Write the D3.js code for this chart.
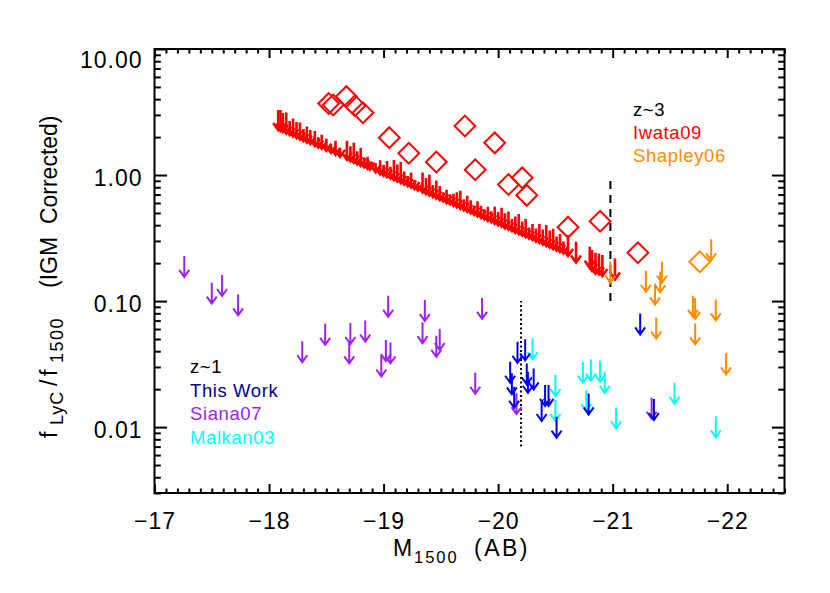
<!DOCTYPE html>
<html><head><meta charset="utf-8">
<script src="https://cdn.jsdelivr.net/npm/d3@7/dist/d3.min.js"></script>
<style>
body{margin:0;background:#fff;}
svg{display:block;}
text{font-family:"Liberation Sans",Arial,Helvetica,sans-serif;}
</style>
</head><body>
<svg id="chart" width="830" height="593"></svg>
<script>
// ---------- axis ticks ----------
const xTickValues = [-17, -18, -19, -20, -21, -22];
const xTickLabels = ["\u221217", "\u221218", "\u221219", "\u221220", "\u221221", "\u221222"];
const yTickValues = [0.01, 0.1, 1, 10];
const yTickLabels = ["0.01", "0.10", "1.00", "10.00"];

// ---------- z~3 : Iwata09 detections (diamonds) ----------
const iwataDetM   = [-18.52, -18.56, -18.675, -18.75, -18.82, -19.05, -19.22, -19.46, -19.71, -19.97, -19.80, -20.09, -20.21, -20.25, -20.61, -20.89, -21.22];
const iwataDetVal = [3.7, 3.6, 4.19, 3.55, 3.12, 1.98, 1.49, 1.27, 2.45, 1.80, 1.10, 0.84, 0.95, 0.69, 0.386, 0.43, 0.242];

// ---------- z~3 : Iwata09 upper limits (arrow top = limit, tip = arrow end) ----------
const iwataLimM = [-18.08,-18.10,-18.12,-18.15,-18.18,-18.21,-18.24,-18.27,-18.30,-18.33,-18.36,-18.40,-18.43,-18.46,-18.50,-18.54,-18.58,-18.62,
  -18.68,-18.71,-18.74,-18.77,-18.80,-18.83,-18.86,-18.88,
  -18.93,-18.97,-19.00,-19.03,-19.06,-19.09,-19.12,-19.15,-19.18,-19.21,-19.24,-19.27,-19.30,
  -19.34,-19.37,-19.40,-19.43,-19.46,-19.49,-19.52,-19.55,-19.58,-19.61,-19.64,-19.67,-19.70,-19.73,-19.76,-19.79,-19.82,-19.85,-19.88,-19.91,-19.94,-19.97,
  -20.00,-20.03,-20.06,-20.09,-20.12,-20.15,-20.18,-20.21,-20.24,-20.27,-20.30,-20.33,-20.36,-20.39,-20.42,-20.45,-20.48,-20.51,-20.54,-20.57,
  -20.61,-20.68,-20.80,-20.82,-20.85,-20.88,-20.91,-21.02];
const iwataLimTop = [3.278,3.28,3.104,3.134,2.684,2.810,2.636,2.613,2.321,2.430,2.280,2.239,1.990,2.083,1.936,1.768,1.868,1.615,
  1.870,1.692,1.804,1.545,1.648,1.385,1.398,1.276,
  1.242,1.313,1.209,1.290,1.166,1.314,1.210,1.268,1.066,0.982,1.047,0.913,0.857,
  1.048,0.948,1.011,0.835,0.907,0.820,0.728,0.763,0.703,0.709,0.729,0.750,0.642,0.684,0.631,0.570,0.619,0.571,0.536,0.561,0.517,0.561,
  0.508,0.551,0.498,0.513,0.447,0.468,0.490,0.428,0.448,0.383,0.409,0.376,0.409,0.370,0.402,0.363,0.374,0.326,0.341,0.297,
  0.334,0.296,0.270,0.254,0.242,0.239,0.232,0.218];
const iwataLimTip = [2.275,2.234,2.193,2.135,2.078,2.022,1.968,1.915,1.864,1.814,1.765,1.702,1.657,1.613,1.555,1.500,1.447,1.395,
  1.322,1.286,1.252,1.218,1.186,1.154,1.123,1.103,
  1.054,1.016,0.989,0.963,0.937,0.912,0.887,0.864,0.841,0.818,0.796,0.775,0.754,
  0.727,0.708,0.689,0.670,0.652,0.635,0.618,0.601,0.585,0.570,0.554,0.540,0.525,0.511,0.497,0.484,0.471,0.458,0.446,0.434,0.423,0.411,
  0.400,0.390,0.379,0.369,0.359,0.349,0.340,0.331,0.322,0.313,0.305,0.297,0.289,0.281,0.274,0.266,0.259,0.252,0.245,0.239,
  0.228,0.202,0.184,0.173,0.165,0.163,0.158,0.148];

// ---------- z~3 : Shapley06 ----------
const shapleyDetM   = [-21.76];
const shapleyDetVal = [0.205];
const shapleyLimM   = [-20.98, -21.29, -21.43, -21.415, -21.37, -21.86, -21.70, -21.72, -21.90, -21.38, -21.72, -21.99];
const shapleyLimVal = [0.205, 0.174, 0.205, 0.172, 0.138, 0.309, 0.110, 0.106, 0.103, 0.074, 0.0665, 0.0385];

// ---------- z~1 : Siana07 ----------
const sianaM   = [-17.26, -17.50, -17.59, -17.73, -18.29, -18.49, -18.70, -18.71, -18.84, -18.98, -19.02, -19.04, -19.06, -19.34, -19.36, -19.46, -19.49, -19.80, -19.86, -20.16, -21.34];
const sianaVal = [0.228, 0.140, 0.161, 0.113, 0.048, 0.066, 0.047, 0.067, 0.070, 0.037, 0.049, 0.110, 0.047, 0.068, 0.102, 0.053, 0.060, 0.027, 0.106, 0.0186, 0.0171];

// ---------- z~1 : This Work ----------
const thisWorkM   = [-20.169, -20.236, -20.105, -20.12, -20.14, -20.25, -20.26, -20.31, -20.41, -20.44, -20.38, -20.51, -20.79, -21.24, -21.36];
const thisWorkVal = [0.0475, 0.0497, 0.0330, 0.0267, 0.0209, 0.0320, 0.0275, 0.0292, 0.0216, 0.0216, 0.0164, 0.0121, 0.0185, 0.0798, 0.0167];

// ---------- z~1 : Malkan03 ----------
const malkanM   = [-20.30, -20.50, -20.50, -20.74, -20.81, -20.89, -20.93, -20.77, -21.03, -21.54, -21.90];
const malkanVal = [0.0506, 0.0259, 0.0164, 0.0330, 0.0344, 0.0336, 0.0275, 0.0197, 0.0143, 0.0225, 0.0122];

// ---------- reference lines ----------
const dashedLine = {m: -20.98, lo: 0.1, hi: 0.9};
const dottedLine = {m: -20.2, lo: 0.007, hi: 0.1};

// ---------- colours ----------
const C = {red:"#ff0000", orange:"#ff8c00", purple:"#a020f0", blue:"#0000f0", navy:"#000090", cyan:"#00ffff"};

// ---------- layout ----------
const L = 154.5, R = 784.5, T = 49, B = 493;
const svg = d3.select("#chart");
const x = d3.scaleLinear().domain([-17, -22.5]).range([L, R]);
const y = d3.scaleLog().domain([0.003, 10]).range([B, T]);

const ARROW_LEN = 21, HEAD_W = 5, HEAD_L = 7;

function drawArrows(g, ms, tops, tips, color, w) {
  const data = ms.map((m, i) => ({m, top: tops[i], tip: tips ? tips[i] : null}));
  const grp = g.append("g").attr("stroke", color).attr("stroke-width", w || 2).attr("fill", "none");
  grp.selectAll("path").data(data).join("path")
    .attr("d", d => {
      const px = x(d.m), py0 = y(d.top);
      const py1 = d.tip != null ? y(d.tip) : py0 + ARROW_LEN;
      return `M${px},${py0}L${px},${py1}M${px - HEAD_W},${py1 - HEAD_L}L${px},${py1}L${px + HEAD_W},${py1 - HEAD_L}`;
    });
}

function drawDiamonds(g, ms, vals, color) {
  const sym = d3.symbol().type(d3.symbolSquare).size(215);
  g.append("g").selectAll("path").data(ms.map((m, i) => ({m, v: vals[i]}))).join("path")
    .attr("d", sym)
    .attr("transform", d => `translate(${x(d.m)},${y(d.v)}) rotate(45)`)
    .attr("fill", "none").attr("stroke", color).attr("stroke-width", 2);
}

const plot = svg.append("g");

// reference lines
plot.append("line")
  .attr("x1", x(dashedLine.m)).attr("x2", x(dashedLine.m))
  .attr("y1", y(dashedLine.lo)).attr("y2", y(dashedLine.hi))
  .attr("stroke", "#000").attr("stroke-width", 2).attr("stroke-dasharray", "8,6");
plot.append("line")
  .attr("x1", x(dottedLine.m)).attr("x2", x(dottedLine.m))
  .attr("y1", y(dottedLine.lo)).attr("y2", y(dottedLine.hi))
  .attr("stroke", "#000").attr("stroke-width", 2).attr("stroke-dasharray", "2,2.5");

// data
drawArrows(plot, iwataLimM, iwataLimTop, iwataLimTip, C.red, 2.6);
drawDiamonds(plot, iwataDetM, iwataDetVal, C.red);
drawArrows(plot, malkanM, malkanVal, null, C.cyan);
drawArrows(plot, sianaM, sianaVal, null, C.purple);
drawArrows(plot, thisWorkM, thisWorkVal, null, C.blue);
drawArrows(plot, shapleyLimM, shapleyLimVal, null, C.orange);
drawDiamonds(plot, shapleyDetM, shapleyDetVal, C.orange);

// ---------- axes ----------
const xMinor = d3.range(-170, -226, -1).map(v => v / 10).filter(v => Math.abs(v - Math.round(v)) > 1e-6);
const yMinor = [];
[0.001, 0.01, 0.1, 1].forEach(dec => { for (let k = 2; k <= 9; k++) { const v = dec * k; if (v >= 0.003 && v <= 10) yMinor.push(v); } });

const XMAJ = 9, XMIN = 4.5, YMAJ = 12.6, YMIN = 6.3;
const fmtX = d => xTickLabels[xTickValues.indexOf(d)];
const fmtY = d => yTickLabels[yTickValues.indexOf(d)];

function styleAxis(g) {
  g.selectAll("path.domain").remove();
  g.selectAll("line").attr("stroke", "#000").attr("stroke-width", 2);
}

// bottom
const axB = svg.append("g").attr("transform", `translate(0,${B})`)
  .call(d3.axisBottom(x).tickValues(xTickValues).tickSize(-XMAJ).tickPadding(20).tickFormat(fmtX));
styleAxis(axB);
axB.selectAll("text").attr("font-size", 23).attr("fill", "#000").attr("letter-spacing", "1px")
  .attr("font-family", '"Liberation Sans",Arial,sans-serif');
svg.append("g").attr("transform", `translate(0,${B})`)
  .call(d3.axisBottom(x).tickValues(xMinor).tickSize(-XMIN).tickFormat("")).call(styleAxis);
// top
svg.append("g").attr("transform", `translate(0,${T})`)
  .call(d3.axisTop(x).tickValues(xTickValues).tickSize(-XMAJ).tickFormat("")).call(styleAxis);
svg.append("g").attr("transform", `translate(0,${T})`)
  .call(d3.axisTop(x).tickValues(xMinor).tickSize(-XMIN).tickFormat("")).call(styleAxis);
// left
const axL = svg.append("g").attr("transform", `translate(${L},0)`)
  .call(d3.axisLeft(y).tickValues(yTickValues).tickSize(-YMAJ).tickPadding(12).tickFormat(fmtY));
styleAxis(axL);
axL.selectAll("text").attr("font-size", 23).attr("fill", "#000").attr("letter-spacing", "1px")
  .attr("font-family", '"Liberation Sans",Arial,sans-serif')
  .attr("dy", d => d === 10 ? "0.8em" : "0.45em");
svg.append("g").attr("transform", `translate(${L},0)`)
  .call(d3.axisLeft(y).tickValues(yMinor).tickSize(-YMIN).tickFormat("")).call(styleAxis);
// right
svg.append("g").attr("transform", `translate(${R},0)`)
  .call(d3.axisRight(y).tickValues(yTickValues).tickSize(-YMAJ).tickFormat("")).call(styleAxis);
svg.append("g").attr("transform", `translate(${R},0)`)
  .call(d3.axisRight(y).tickValues(yMinor).tickSize(-YMIN).tickFormat("")).call(styleAxis);

// frame
svg.append("rect").attr("x", L).attr("y", T).attr("width", R - L).attr("height", B - T)
  .attr("fill", "none").attr("stroke", "#000").attr("stroke-width", 2);

// ---------- axis titles ----------
const xt = svg.append("text").attr("y", 556).attr("text-anchor", "start")
  .attr("font-size", 23).attr("fill", "#000");
xt.append("tspan").attr("x", 393).text("M");
xt.append("tspan").attr("x", 414).attr("font-size", 16.5).attr("letter-spacing", "2px").attr("dy", 7).text("1500");
xt.append("tspan").attr("x", 474).attr("dy", -7).attr("letter-spacing", "2.5px").text("(AB)");

const yt = svg.append("text").attr("transform", "translate(57,438) rotate(-90)").attr("text-anchor", "start")
  .attr("font-size", 23).attr("fill", "#000");
yt.append("tspan").attr("x", 0).text("f");
yt.append("tspan").attr("x", 13).attr("font-size", 18).attr("letter-spacing", "1px").attr("dy", 6).text("LyC");
yt.append("tspan").attr("x", 52).attr("dy", -6).text("/");
yt.append("tspan").attr("x", 62).text("f");
yt.append("tspan").attr("x", 75).attr("font-size", 18).attr("letter-spacing", "1.5px").attr("dy", 6).text("1500");
yt.append("tspan").attr("x", 150).attr("dy", -6).text("(IGM\u00a0\u00a0Corrected)");

// ---------- legends ----------
const legR = [{t:"z~3", c:"#000"}, {t:"Iwata09", c:C.red}, {t:"Shapley06", c:C.orange}];
svg.append("g").selectAll("text").data(legR).join("text")
  .attr("x", 633).attr("y", (d, i) => 116 + i * 23)
  .attr("font-size", 18.5).attr("letter-spacing", "0.6px").attr("fill", d => d.c).text(d => d.t);
const legL = [{t:"z~1", c:"#000"}, {t:"This Work", c:C.navy}, {t:"Siana07", c:C.purple}, {t:"Malkan03", c:C.cyan}];
svg.append("g").selectAll("text").data(legL).join("text")
  .attr("x", 190).attr("y", (d, i) => 373 + i * 23.6)
  .attr("font-size", 18.5).attr("letter-spacing", "0.6px").attr("fill", d => d.c).text(d => d.t);
</script>
</body></html>
